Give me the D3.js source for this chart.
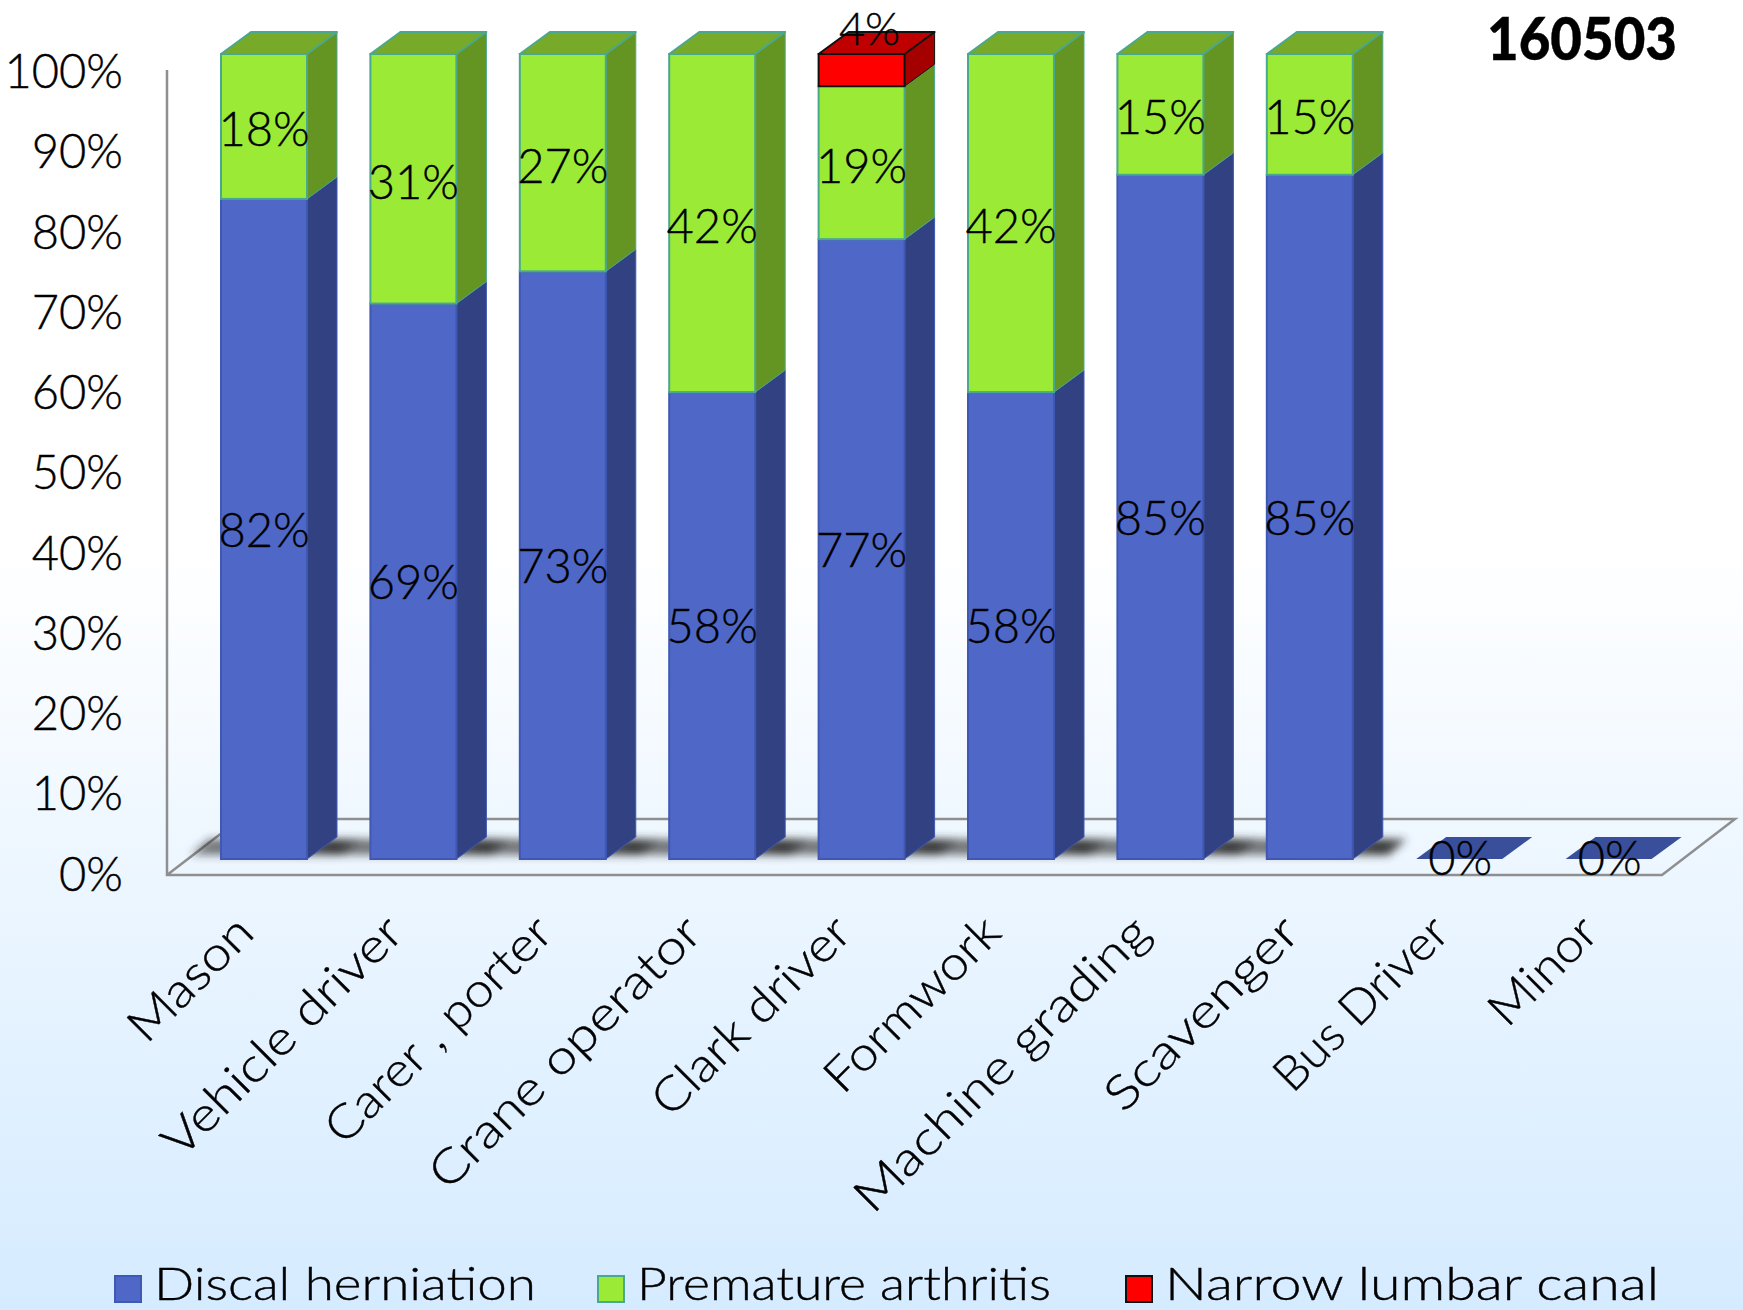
<!DOCTYPE html>
<html>
<head>
<meta charset="utf-8">
<script src="https://cdn.jsdelivr.net/npm/d3@7/dist/d3.min.js"></script>
<style>
html, body { margin: 0; padding: 0; background: #fff; }
svg { display: block; }
text { font-family: "Lato", "Open Sans", sans-serif; font-weight: 300; fill: #000; stroke: #000; stroke-width: 0.4; }
</style>
</head>
<body>
<svg id="chart" width="1743" height="1310"></svg>
<script>
const categories = ["Mason", "Vehicle driver", "Carer , porter", "Crane operator", "Clark driver",
  "Formwork", "Machine grading", "Scavenger", "Bus Driver", "Minor"];
const discalHerniation = [82, 69, 73, 58, 77, 58, 85, 85, 0, 0];
const prematureArthritis = [18, 31, 27, 42, 19, 42, 15, 15, 0, 0];
const narrowLumbarCanal = [0, 0, 0, 0, 4, 0, 0, 0, 0, 0];
const seriesNames = ["Discal herniation", "Premature arthritis", "Narrow lumbar canal"];
const yTicks = [0, 10, 20, 30, 40, 50, 60, 70, 80, 90, 100];
const chartTitle = "160503";

// Horizontal stretch per category label and legend text widths, for the wide letterforms
const categoryStretch = [1.136, 1.153, 1.1, 1.18, 1.11, 1.1, 1.18, 1.217, 1.05, 1.09];
const legendTextWidth = [382, 414, 494];

const svg = d3.select("#chart");
const W = 1743, H = 1310;

const fitWidth = (sel, width) => sel.attr("textLength", width).attr("lengthAdjust", "spacingAndGlyphs");

const defs = svg.append("defs");
const bg = defs.append("linearGradient").attr("id", "page").attr("x1", 0).attr("y1", 0).attr("x2", 0).attr("y2", 1);
[[0, "#ffffff"], [0.42, "#ffffff"], [0.62, "#f0f8ff"], [1, "#d5ebff"]].forEach(([o, c]) =>
  bg.append("stop").attr("offset", o).attr("stop-color", c));
defs.append("filter").attr("id", "soft").attr("x", "-30%").attr("y", "-80%").attr("width", "160%").attr("height", "260%")
  .append("feGaussianBlur").attr("stdDeviation", 4.5);
const shade = defs.append("linearGradient").attr("id", "shade");
[[0, 0.6], [0.55, 0.7], [0.85, 0.95], [1, 0.75]].forEach(([o, a]) =>
  shade.append("stop").attr("offset", o).attr("stop-color", "#2e2e2e").attr("stop-opacity", a));

svg.append("rect").attr("width", W).attr("height", H).attr("fill", "url(#page)");

// Front plane of the axis box; the bars stand further back by the offsets below.
const y = d3.scaleLinear().domain([0, 100]).range([875, 70]);
const yLabels = y.copy().range([874.5, 72]);
const x = d3.scaleBand().domain(categories).range([221, 1651.6]).paddingInner(0.4244).paddingOuter(0);
const axisLeft = 167, axisRight = 1662;
const barDepth = { dx: 30, dy: -22 };
const barLift = -16;
const floorDepth = { dx: 73, dy: -56 };
const axisGrey = "#8f8f8f";

// Floor and left wall of the box
svg.append("path").attr("fill", "none").attr("stroke", axisGrey).attr("stroke-width", 2.5)
  .attr("d", `M${axisLeft},${y(100)}V${y(0)}H${axisRight}L${axisRight + floorDepth.dx},${y(0) + floorDepth.dy}H${axisLeft + floorDepth.dx}L${axisLeft},${y(0)}`);

const stacks = categories.map((c, i) => ({
  name: c,
  parts: [
    { key: 0, v0: 0, v1: discalHerniation[i], v: discalHerniation[i] },
    { key: 1, v0: discalHerniation[i], v1: discalHerniation[i] + prematureArthritis[i], v: prematureArthritis[i] },
    { key: 2, v0: discalHerniation[i] + prematureArthritis[i], v1: discalHerniation[i] + prematureArthritis[i] + narrowLumbarCanal[i], v: narrowLumbarCanal[i] }
  ]
}));

// Drop shadows on the floor around each standing bar
svg.append("g").attr("filter", "url(#soft)").selectAll("path")
  .data(stacks.filter(s => s.parts[1].v1 > 0)).join("path")
  .attr("fill", "url(#shade)")
  .attr("d", s => {
    const l = x(s.name) - 30, r = x(s.name) + x.bandwidth() + 54, b = y(0) + barLift - 4, t = y(0) + barLift - 20;
    return `M${l},${b}L${l + 18},${t}H${r}L${r - 18},${b}Z`;
  });

const palette = [
  { front: "#4f68c8", side: "#324182", top: "#3a4f9b", line: "#3f58b4" },
  { front: "#9bea36", side: "#649422", top: "#76aa28", line: "#4aa88e" },
  { front: "#ff0000", side: "#a50000", top: "#c00000", line: "#111111" }
];

const bars = svg.append("g");
stacks.forEach(s => {
  const bx = x(s.name), bw = x.bandwidth();
  const g = bars.append("g");
  const visible = s.parts.filter(p => p.v > 0);
  visible.forEach(p => {
    const c = palette[p.key];
    const yb = y(p.v0) + barLift, yt = y(p.v1) + barLift;
    g.append("path").attr("fill", c.side).attr("stroke", c.line).attr("stroke-width", 1)
      .attr("d", `M${bx + bw},${yb}L${bx + bw + barDepth.dx},${yb + barDepth.dy}V${yt + barDepth.dy}L${bx + bw},${yt}Z`);
    g.append("rect").attr("x", bx).attr("y", yt).attr("width", bw).attr("height", yb - yt)
      .attr("fill", c.front).attr("stroke", c.line).attr("stroke-width", 2);
  });
  const lastPart = visible[visible.length - 1];
  if (lastPart) {
    const c = palette[lastPart.key];
    const yt = y(lastPart.v1) + barLift;
    g.append("path").attr("fill", c.top).attr("stroke", c.line).attr("stroke-width", 2).attr("stroke-linejoin", "round")
      .attr("d", `M${bx},${yt}L${bx + barDepth.dx},${yt + barDepth.dy}H${bx + bw + barDepth.dx}L${bx + bw},${yt}Z`);
  } else {
    // A zero-height bar shows only its lid lying on the floor
    const yt = y(0) + barLift;
    g.append("path").attr("fill", palette[0].top)
      .attr("d", `M${bx},${yt}L${bx + barDepth.dx},${yt + barDepth.dy}H${bx + bw + barDepth.dx}L${bx + bw},${yt}Z`);
  }
});

// Value labels, centred in their segments; the thin top segment's label sits above it
const labels = svg.append("g").attr("font-size", 47).attr("text-anchor", "middle");
stacks.forEach(s => {
  const cx = x(s.name) + x.bandwidth() / 2;
  s.parts.forEach(p => {
    const zeroBase = p.key === 0 && p.v === 0;
    if (p.v === 0 && !zeroBase) return;
    if (p.key === 2) {
      labels.append("text").attr("x", cx + 8).attr("y", y(p.v1) + barLift - 9).attr("font-size", 45).text(`${p.v}%`);
      return;
    }
    const mid = zeroBase ? y(0) + barLift - 1 : (y(p.v0) + y(p.v1)) / 2 + barLift + (p.key === 1 ? 3 : 1);
    labels.append("text").attr("x", cx + (zeroBase ? 1 : 0)).attr("y", mid).attr("dy", "0.36em").text(`${p.v}%`);
  });
});

// Value axis
const yAxis = d3.axisLeft(yLabels).tickValues(yTicks).tickFormat(d => `${d}%`).tickSize(0).tickPadding(44);
const yg = svg.append("g").attr("transform", `translate(${axisLeft},0.5)`).call(yAxis);
yg.select(".domain").remove();
yg.selectAll("text").attr("font-size", 47);

// Category labels rotated up to the right
svg.append("g").attr("font-size", 47).selectAll("text").data(categories).join("text")
  .attr("text-anchor", "end")
  .attr("transform", c => `translate(${x(c) + x.bandwidth() / 2 - 31},${y(0) + 37}) rotate(-45)`)
  .attr("dy", "0.7em")
  .text(c => c)
  .each(function (c, i) {
    fitWidth(d3.select(this), this.getComputedTextLength() * categoryStretch[i]);
  });

// Legend along the bottom edge
const legendX = [114, 597, 1125];
const lg = svg.append("g");
seriesNames.forEach((n, i) => {
  const c = palette[i];
  lg.append("rect").attr("x", legendX[i] + 1).attr("y", 1276).attr("width", 26).attr("height", 26)
    .attr("fill", c.front).attr("stroke", c.line).attr("stroke-width", 2);
  lg.append("text").attr("x", legendX[i] + 40).attr("y", 1300).attr("font-size", 45).text(n)
    .call(fitWidth, legendTextWidth[i]);
});

svg.append("text").attr("x", 1487).attr("y", 60)
  .attr("font-size", 59).style("font-weight", 900).text(chartTitle)
  .call(fitWidth, 190);
</script>
</body>
</html>
